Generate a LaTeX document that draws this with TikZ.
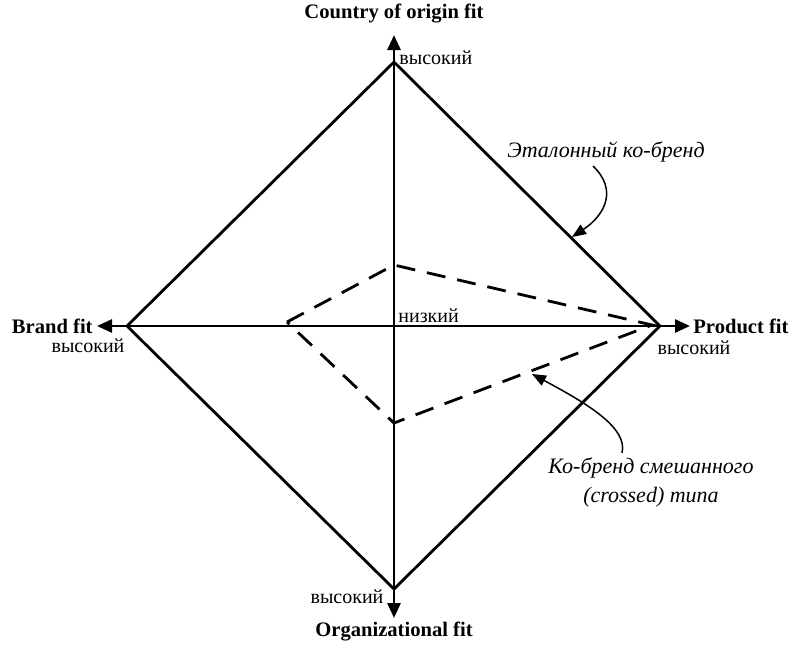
\documentclass[tikz,border=0pt]{standalone}
\usepackage{fontspec}
\setmainfont{Liberation Serif}
\usetikzlibrary{arrows.meta}
\begin{document}
\begin{tikzpicture}[x=0.5pt,y=-0.5pt,
  axis/.style={line width=1.4pt,-{Triangle[length=7.5pt,width=6.5pt]}},
  rim/.style={line width=1.4pt,line join=miter},
  mixed/.style={line width=1.4pt,dash pattern=on 9.5pt off 6pt},
  pointer/.style={line width=0.75pt,-{Triangle[length=7pt,width=5.5pt]}},
  axislabel/.style={font=\fontsize{10.3}{12}\selectfont\bfseries,inner sep=0pt},
  level/.style={font=\fontsize{10}{12}\selectfont,inner sep=0pt},
  note/.style={font=\fontsize{11}{14.5}\selectfont\itshape,inner sep=0pt,align=center}]
\useasboundingbox (0,0) rectangle (793,645);

% diamond vertices and centre
\coordinate (O) at (394,326);
\coordinate (T) at (394,62);
\coordinate (R) at (660,326);
\coordinate (B) at (394,589);
\coordinate (L) at (127,326);

% axis ends
\coordinate (Tend) at (394,35);
\coordinate (Bend) at (394,618);
\coordinate (Lend) at (97,326);
\coordinate (Rend) at (690,326);

% mixed co-brand polygon
\coordinate (mT) at (394,265);
\coordinate (mR) at (652,325);
\coordinate (mB) at (394,423);
\coordinate (mL) at (287,322);

% axes
\draw[axis] (B) -- (Tend);
\draw[axis] (T) -- (Bend);
\draw[axis] (R) -- (Lend);
\draw[axis] (L) -- (Rend);

% reference co-brand
\draw[rim] (T) -- (R) -- (B) -- (L) -- cycle;

% crossed co-brand
\draw[mixed] (mL) -- (mT) -- (mR) -- (mB) -- cycle;

% axis labels
\node[axislabel] (ctry) at (394,14) {Country of origin fit};
\node[axislabel] (org) at (394,632) {Organizational fit};
\node[axislabel,anchor=east] (brand) at (93,326) {Brand fit};
\node[axislabel,anchor=west] (prod) at (693,326) {Product fit};

% level labels
\node[level,anchor=west] (hiT) at (399,58) {высокий};
\node[level] (hiL) at (88,346) {высокий};
\node[level] (hiR) at (694,348) {высокий};
\node[level] (hiB) at (347,597) {высокий};
\node[level,anchor=west] (lo) at (398,316) {низкий};

% annotations
\node[note] (ref) at (606,152) {Эталонный ко-бренд};
\node[note] (mix) at (651,482) {Ко-бренд смешанного\\(crossed) типа};

\coordinate (p1) at (593,166);
\coordinate (q1) at (572,237);
\draw[pointer] (p1) .. controls (618,190) and (605,215) .. (q1);

\coordinate (p2) at (622,453);
\coordinate (q2) at (532,374);
\draw[pointer] (p2) .. controls (628,428) and (588,404) .. (q2);
\end{tikzpicture}
\end{document}
